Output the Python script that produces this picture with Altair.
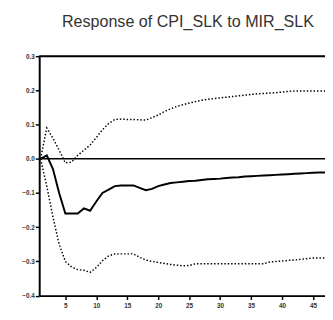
import altair as alt
import pandas as pd

periods = list(range(1, 48))
response = [0.00, 0.01, -0.03, -0.10, -0.16, -0.16, -0.16, -0.145, -0.152, -0.125,
            -0.10, -0.09, -0.08, -0.078, -0.078, -0.078, -0.085, -0.092, -0.088, -0.08,
            -0.075, -0.071, -0.069, -0.067, -0.065, -0.064, -0.062, -0.06, -0.059, -0.058,
            -0.056, -0.055, -0.054, -0.052, -0.051, -0.05, -0.049, -0.048, -0.047, -0.046,
            -0.045, -0.044, -0.043, -0.042, -0.041, -0.04, -0.04]
upper = [0.0, 0.09, 0.06, 0.025, -0.012, -0.01, 0.01, 0.025, 0.04, 0.062,
         0.085, 0.103, 0.115, 0.116, 0.115, 0.115, 0.114, 0.113, 0.12, 0.128,
         0.138, 0.146, 0.153, 0.158, 0.163, 0.167, 0.171, 0.174, 0.176, 0.178,
         0.18, 0.182, 0.184, 0.186, 0.188, 0.19, 0.191, 0.192, 0.193, 0.195,
         0.197, 0.198, 0.198, 0.198, 0.198, 0.198, 0.198]
lower = [0.0, -0.08, -0.17, -0.25, -0.30, -0.316, -0.324, -0.326, -0.332, -0.318,
         -0.298, -0.284, -0.278, -0.278, -0.278, -0.278, -0.288, -0.296, -0.30, -0.303,
         -0.306, -0.309, -0.311, -0.313, -0.312, -0.307, -0.307, -0.307, -0.307, -0.307,
         -0.307, -0.307, -0.307, -0.307, -0.307, -0.307, -0.307, -0.302, -0.30, -0.299,
         -0.297, -0.296, -0.294, -0.292, -0.29, -0.29, -0.29]
x_ticks = [5, 10, 15, 20, 25, 30, 35, 40, 45]
y_ticks = [-0.4, -0.3, -0.2, -0.1, 0.0, 0.1, 0.2, 0.3]
title_text = "Response of CPI_SLK to MIR_SLK"

df = pd.DataFrame({"period": periods, "response": response, "upper": upper, "lower": lower})
long = df.melt("period", var_name="series", value_name="value")

FONT = "Liberation Sans"
xscale = alt.Scale(domain=[0.78, 46.95], nice=False, zero=False)
yscale = alt.Scale(domain=[-0.4, 0.3], nice=False)
xaxis = alt.Axis(values=x_ticks, title=None, labelPadding=3)
yaxis = alt.Axis(values=y_ticks, format=".1f", title=None, labelPadding=1)

base = alt.Chart(long)

bands = base.transform_filter(alt.datum.series != "response").mark_line(
    color="black", strokeWidth=1.5, strokeDash=[1.5, 2], clip=True
).encode(
    x=alt.X("period:Q", scale=xscale, axis=xaxis),
    y=alt.Y("value:Q", scale=yscale, axis=yaxis),
    detail="series:N",
)

resp = base.transform_filter(alt.datum.series == "response").mark_line(
    color="black", strokeWidth=2, clip=True
).encode(x=alt.X("period:Q", scale=xscale, axis=xaxis),
         y=alt.Y("value:Q", scale=yscale, axis=yaxis))

zero = alt.Chart(pd.DataFrame({"y": [0.0]})).mark_rule(color="black", strokeWidth=1.5).encode(
    y=alt.Y("y:Q", scale=yscale, axis=yaxis))
top = alt.Chart(pd.DataFrame({"y": [0.3]})).mark_rule(color="black", strokeWidth=2).encode(
    y=alt.Y("y:Q", scale=yscale, axis=yaxis))

chart = alt.layer(bands, resp, zero, top).properties(
    width=293, height=245.5,
    autosize=alt.AutoSizeParams(type="none"),
    padding={"left": 32, "top": 45.5, "right": 0, "bottom": 16},
    title=alt.TitleParams(title_text, font=FONT, fontSize=16.5, fontWeight="normal",
                          color="#333", anchor="middle", dx=6, offset=23),
).configure_view(stroke=None).configure_axis(
    grid=False, labelFont=FONT, labelFontSize=6.5, labelFontWeight="bold",
    labelColor="#333", labelOverlap=False, labelBound=False, labelFlush=False,
    domainColor="black", domainWidth=2, tickColor="black", tickWidth=1.5, tickSize=4,
)

chart.save("out.html", embed_options={"renderer": "svg", "actions": False})
